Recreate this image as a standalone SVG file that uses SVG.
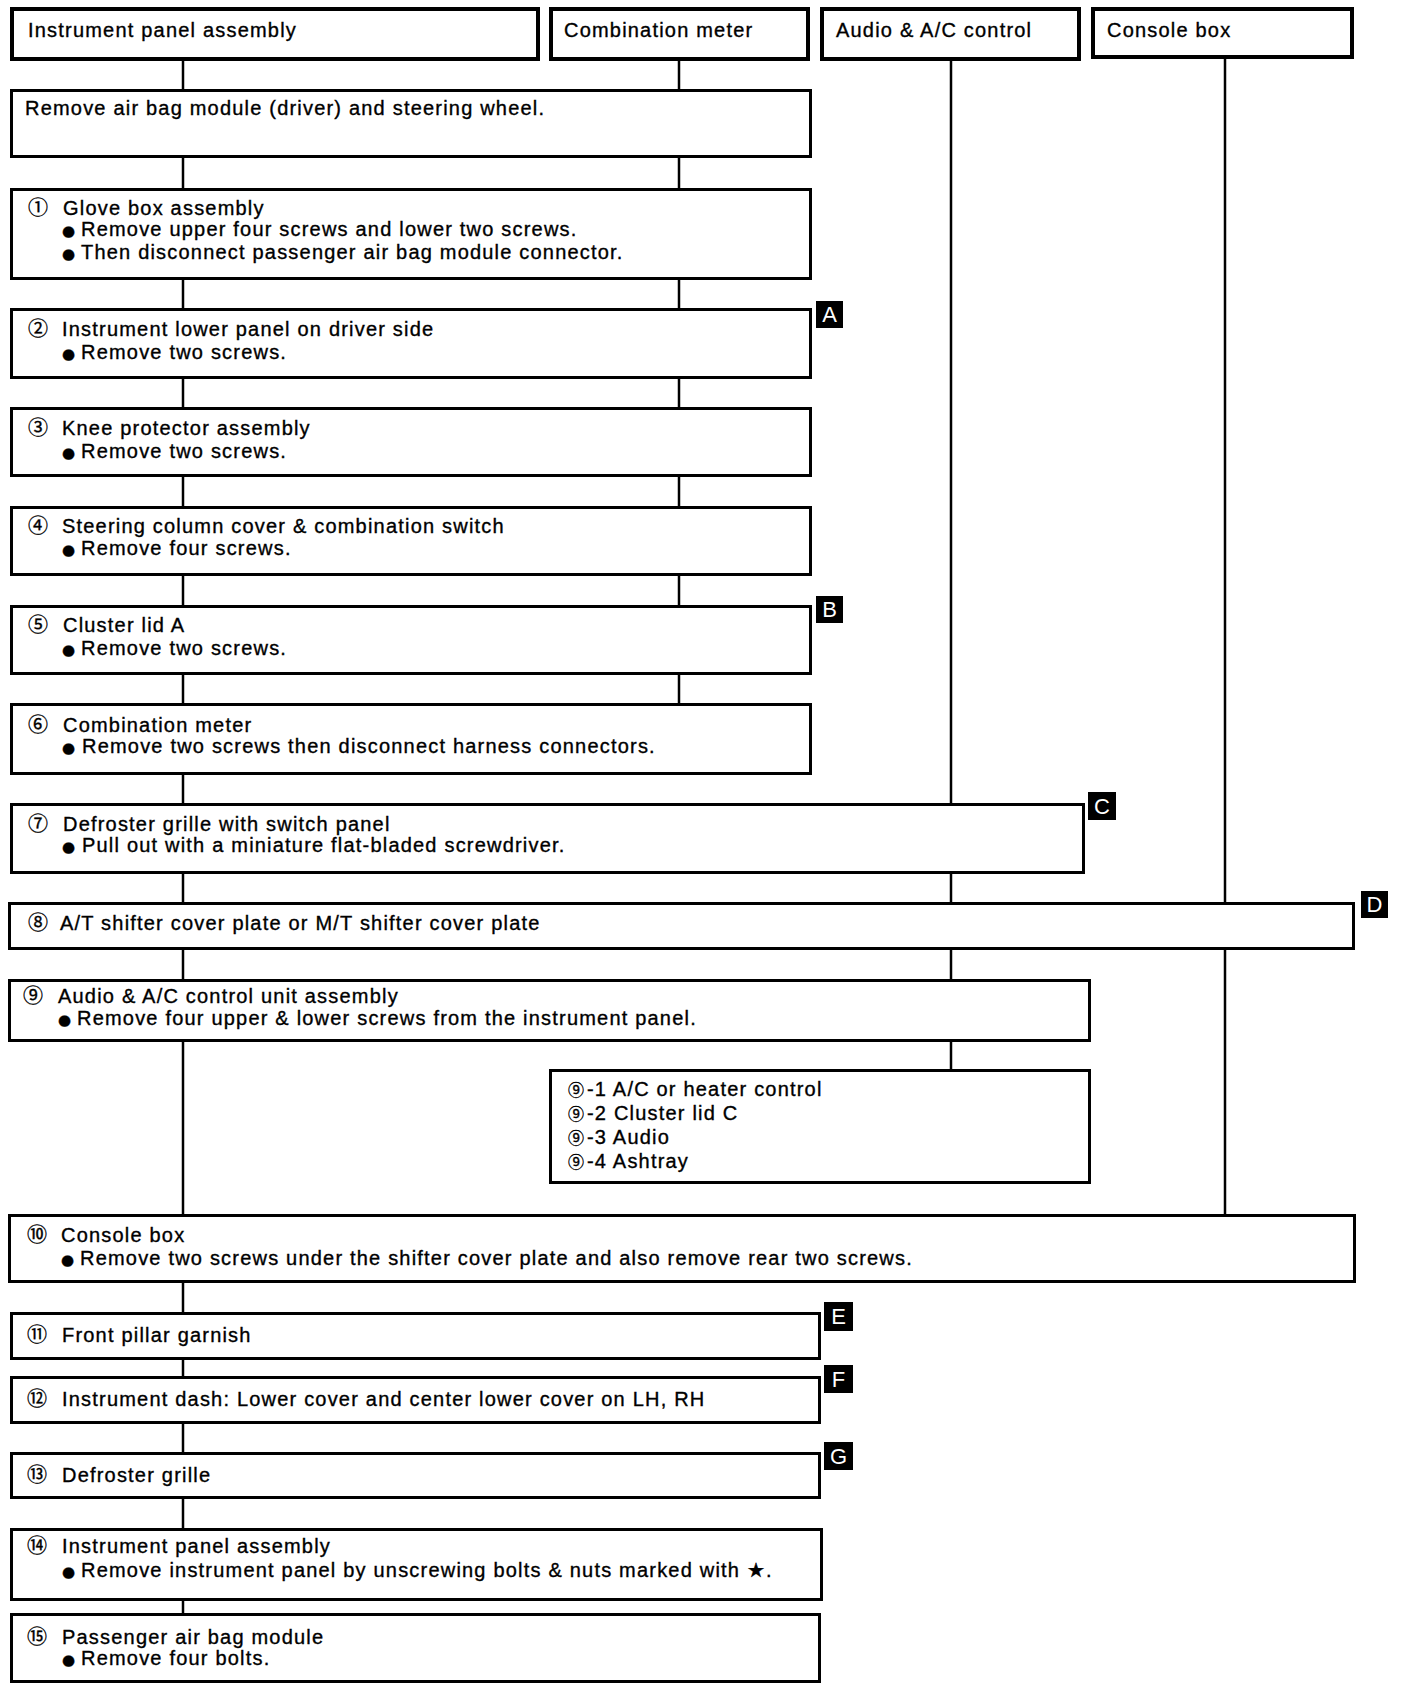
<svg xmlns="http://www.w3.org/2000/svg" width="1408" height="1692" viewBox="0 0 1408 1692">
<style>
.hdr{fill:#fff;stroke:#000;stroke-width:4}
.box{fill:#fff;stroke:#000;stroke-width:3}
.con line{stroke:#000;stroke-width:2.5}
text{font-family:"Liberation Sans",Arial,sans-serif;font-size:20px;letter-spacing:1.2px;fill:#000;stroke:#000;stroke-width:0.35}
.n{font-family:"Noto Sans CJK JP","DejaVu Sans",sans-serif;letter-spacing:0;font-size:20px}
.s{font-size:16px}
.b{font-family:"DejaVu Sans","Liberation Sans",sans-serif;font-size:15px;letter-spacing:0}
.tag{fill:#000}
.tt{fill:#fff;stroke:none;font-size:22px;letter-spacing:0;text-anchor:middle}
</style>
<rect width="1408" height="1692" fill="#fff"/>
<g class="con" id="connectors">
<line x1="183" y1="61" x2="183" y2="89"/><line x1="183" y1="158" x2="183" y2="188"/><line x1="183" y1="280" x2="183" y2="308"/><line x1="183" y1="379" x2="183" y2="407"/><line x1="183" y1="477" x2="183" y2="506"/><line x1="183" y1="576" x2="183" y2="605"/><line x1="183" y1="675" x2="183" y2="703"/><line x1="183" y1="775" x2="183" y2="803"/><line x1="183" y1="874" x2="183" y2="902"/><line x1="183" y1="950" x2="183" y2="979"/><line x1="183" y1="1042" x2="183" y2="1214"/><line x1="183" y1="1283" x2="183" y2="1312"/><line x1="183" y1="1360" x2="183" y2="1376"/><line x1="183" y1="1424" x2="183" y2="1452"/><line x1="183" y1="1499" x2="183" y2="1528"/><line x1="183" y1="1601" x2="183" y2="1613"/>
<line x1="679" y1="61" x2="679" y2="89"/><line x1="679" y1="158" x2="679" y2="188"/><line x1="679" y1="280" x2="679" y2="308"/><line x1="679" y1="379" x2="679" y2="407"/><line x1="679" y1="477" x2="679" y2="506"/><line x1="679" y1="576" x2="679" y2="605"/><line x1="679" y1="675" x2="679" y2="703"/>
<line x1="951" y1="61" x2="951" y2="803"/><line x1="951" y1="874" x2="951" y2="902"/><line x1="951" y1="950" x2="951" y2="979"/><line x1="951" y1="1042" x2="951" y2="1069"/>
<line x1="1225" y1="59" x2="1225" y2="902"/><line x1="1225" y1="950" x2="1225" y2="1214"/>
</g>
<g id="hdr1"><rect class="hdr" x="12" y="9" width="526" height="50"/><text x="28" y="37">Instrument panel assembly</text></g>
<g id="hdr2"><rect class="hdr" x="551" y="9" width="257" height="50"/><text x="564" y="37">Combination meter</text></g>
<g id="hdr3"><rect class="hdr" x="822" y="9" width="257" height="50"/><text x="836" y="37">Audio &amp; A/C control</text></g>
<g id="hdr4"><rect class="hdr" x="1093" y="9" width="259" height="48"/><text x="1107" y="37">Console box</text></g>
<g id="step0"><rect class="box" x="11.5" y="90.5" width="799" height="66"/><text x="25" y="115">Remove air bag module (driver) and steering wheel.</text></g>
<g id="step1"><rect class="box" x="11.5" y="189.5" width="799" height="89"/>
<text y="215"><tspan class="n" x="28">①</tspan><tspan x="63">Glove box assembly</tspan></text>
<text y="236"><tspan class="b" x="62">●</tspan><tspan x="81">Remove upper four screws and lower two screws.</tspan></text>
<text y="259"><tspan class="b" x="62">●</tspan><tspan x="81">Then disconnect passenger air bag module connector.</tspan></text></g>
<g id="step2"><rect class="box" x="11.5" y="309.5" width="799" height="68"/>
<text y="336"><tspan class="n" x="28">②</tspan><tspan x="62">Instrument lower panel on driver side</tspan></text>
<text y="359"><tspan class="b" x="62">●</tspan><tspan x="81">Remove two screws.</tspan></text></g>
<g id="step3"><rect class="box" x="11.5" y="408.5" width="799" height="67"/>
<text y="435"><tspan class="n" x="28">③</tspan><tspan x="62">Knee protector assembly</tspan></text>
<text y="458"><tspan class="b" x="62">●</tspan><tspan x="81">Remove two screws.</tspan></text></g>
<g id="step4"><rect class="box" x="11.5" y="507.5" width="799" height="67"/>
<text y="533"><tspan class="n" x="28">④</tspan><tspan x="62">Steering column cover &amp; combination switch</tspan></text>
<text y="555"><tspan class="b" x="62">●</tspan><tspan x="81">Remove four screws.</tspan></text></g>
<g id="step5"><rect class="box" x="11.5" y="606.5" width="799" height="67"/>
<text y="632"><tspan class="n" x="28">⑤</tspan><tspan x="63">Cluster lid A</tspan></text>
<text y="655"><tspan class="b" x="62">●</tspan><tspan x="81">Remove two screws.</tspan></text></g>
<g id="step6"><rect class="box" x="11.5" y="704.5" width="799" height="69"/>
<text y="732"><tspan class="n" x="28">⑥</tspan><tspan x="63">Combination meter</tspan></text>
<text y="753"><tspan class="b" x="62">●</tspan><tspan x="82">Remove two screws then disconnect harness connectors.</tspan></text></g>
<g id="step7"><rect class="box" x="11.5" y="804.5" width="1072" height="68"/>
<text y="831"><tspan class="n" x="28">⑦</tspan><tspan x="63">Defroster grille with switch panel</tspan></text>
<text y="852"><tspan class="b" x="62">●</tspan><tspan x="82">Pull out with a miniature flat-bladed screwdriver.</tspan></text></g>
<g id="step8"><rect class="box" x="9.5" y="903.5" width="1344" height="45"/>
<text y="930"><tspan class="n" x="28">⑧</tspan><tspan x="60">A/T shifter cover plate or M/T shifter cover plate</tspan></text></g>
<g id="step9"><rect class="box" x="9.5" y="980.5" width="1080" height="60"/>
<text y="1003"><tspan class="n" x="23">⑨</tspan><tspan x="58">Audio &amp; A/C control unit assembly</tspan></text>
<text y="1025"><tspan class="b" x="58">●</tspan><tspan x="77">Remove four upper &amp; lower screws from the instrument panel.</tspan></text></g>
<g id="step9sub"><rect class="box" x="550.5" y="1070.5" width="539" height="112"/>
<text y="1096"><tspan class="n s" x="568">⑨</tspan><tspan x="587">-1 A/C or heater control</tspan></text>
<text y="1120"><tspan class="n s" x="568">⑨</tspan><tspan x="587">-2 Cluster lid C</tspan></text>
<text y="1144"><tspan class="n s" x="568">⑨</tspan><tspan x="587">-3 Audio</tspan></text>
<text y="1168"><tspan class="n s" x="568">⑨</tspan><tspan x="587">-4 Ashtray</tspan></text></g>
<g id="step10"><rect class="box" x="9.5" y="1215.5" width="1345" height="66"/>
<text y="1242"><tspan class="n" x="27">⑩</tspan><tspan x="61">Console box</tspan></text>
<text y="1265"><tspan class="b" x="61">●</tspan><tspan x="80">Remove two screws under the shifter cover plate and also remove rear two screws.</tspan></text></g>
<g id="step11"><rect class="box" x="11.5" y="1313.5" width="808" height="45"/>
<text y="1342"><tspan class="n" x="27">⑪</tspan><tspan x="62">Front pillar garnish</tspan></text></g>
<g id="step12"><rect class="box" x="11.5" y="1377.5" width="808" height="45"/>
<text y="1406"><tspan class="n" x="27">⑫</tspan><tspan x="62">Instrument dash: Lower cover and center lower cover on LH, RH</tspan></text></g>
<g id="step13"><rect class="box" x="11.5" y="1453.5" width="808" height="44"/>
<text y="1482"><tspan class="n" x="27">⑬</tspan><tspan x="62">Defroster grille</tspan></text></g>
<g id="step14"><rect class="box" x="11.5" y="1529.5" width="810" height="70"/>
<text y="1553"><tspan class="n" x="27">⑭</tspan><tspan x="62">Instrument panel assembly</tspan></text>
<text y="1577"><tspan class="b" x="62">●</tspan><tspan x="81">Remove instrument panel by unscrewing bolts &amp; nuts marked with ★.</tspan></text></g>
<g id="step15"><rect class="box" x="11.5" y="1614.5" width="808" height="67"/>
<text y="1644"><tspan class="n" x="27">⑮</tspan><tspan x="62">Passenger air bag module</tspan></text>
<text y="1665"><tspan class="b" x="62">●</tspan><tspan x="81">Remove four bolts.</tspan></text></g>
<g id="tagA"><rect class="tag" x="816" y="301" width="27" height="27"/><text class="tt" x="829.5" y="322">A</text></g>
<g id="tagB"><rect class="tag" x="816" y="596" width="27" height="27"/><text class="tt" x="829.5" y="617">B</text></g>
<g id="tagC"><rect class="tag" x="1088" y="792" width="28" height="28"/><text class="tt" x="1102" y="814">C</text></g>
<g id="tagD"><rect class="tag" x="1361" y="891" width="27" height="27"/><text class="tt" x="1374.5" y="912">D</text></g>
<g id="tagE"><rect class="tag" x="824" y="1302" width="29" height="29"/><text class="tt" x="838.5" y="1324">E</text></g>
<g id="tagF"><rect class="tag" x="824" y="1365" width="29" height="28"/><text class="tt" x="838.5" y="1387">F</text></g>
<g id="tagG"><rect class="tag" x="824" y="1442" width="29" height="28"/><text class="tt" x="838.5" y="1464">G</text></g>
</svg>
